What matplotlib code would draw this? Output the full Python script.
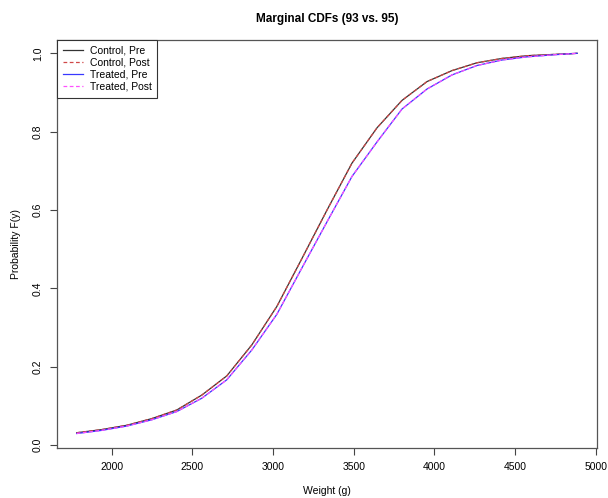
import matplotlib
matplotlib.use("Agg")
import matplotlib.pyplot as plt
from matplotlib.lines import Line2D

plt.rcParams['font.family'] = ['Liberation Sans', 'DejaVu Sans']

weight = [1783, 1938, 2093, 2248, 2403, 2558, 2713, 2868, 3023, 3178, 3334,
          3489, 3644, 3799, 3954, 4109, 4264, 4419, 4574, 4729, 4884]
control_pre = [0.032, 0.040, 0.051, 0.068, 0.090, 0.128, 0.177, 0.256, 0.354, 0.476, 0.600,
               0.720, 0.810, 0.880, 0.928, 0.956, 0.976, 0.987, 0.994, 0.997, 1.000]
control_post = list(control_pre)
treated_pre = [0.030, 0.038, 0.049, 0.065, 0.086, 0.120, 0.167, 0.243, 0.334, 0.452, 0.570,
               0.686, 0.774, 0.858, 0.909, 0.945, 0.969, 0.983, 0.991, 0.996, 1.000]
treated_post = list(treated_pre)

labels = ["Control, Pre", "Control, Post", "Treated, Pre", "Treated, Post"]
colors = ["#333333", "#d04848", "#3838ff", "#ff50ff"]
styles = ["-", (0, (3, 2)), "-", (0, (3, 2))]

fig = plt.figure(figsize=(6.08, 4.98), dpi=100)
ax = fig.add_axes([57/608, 1-448.3/498, (597-57)/608, (448.3-40)/498])

series = [control_pre, control_post, treated_pre, treated_post]
for s, c, ls, lab in zip(series, colors, styles, labels):
    ax.plot(weight, s, color=c, linestyle=ls, lw=0.9, label=lab)

ax.set_xlim(1661, 5007)
ax.set_ylim(-0.0077, 1.034)
ax.set_xticks([2000, 2500, 3000, 3500, 4000, 4500, 5000])
ax.set_yticks([0.0, 0.2, 0.4, 0.6, 0.8, 1.0])
ax.set_yticklabels(["0.0", "0.2", "0.4", "0.6", "0.8", "1.0"], rotation=90, va='center')
ax.tick_params(axis='both', direction='out', length=5, width=0.8, color='#444444',
               labelsize=7.5, pad=5)
for sp in ax.spines.values():
    sp.set_color('#555555')
    sp.set_linewidth(0.9)

ax.set_title("Marginal CDFs (93 vs. 95)", fontsize=8.5, fontweight='bold', pad=13)
ax.set_xlabel("Weight (g)", fontsize=7.5, labelpad=10)
ax.set_ylabel("Probability F(y)", fontsize=7.5, labelpad=9)

handles = [Line2D([0], [0], color=c, linestyle=ls, lw=0.9) for c, ls in zip(colors, styles)]
leg = ax.legend(handles, labels, loc='upper left', borderaxespad=0, fontsize=7.5,
                fancybox=False, framealpha=1, edgecolor='#333333', handlelength=1.9,
                labelspacing=0.2, borderpad=0.55, handletextpad=0.7)
leg.get_frame().set_linewidth(0.8)

fig.savefig("out.png", dpi=100)
